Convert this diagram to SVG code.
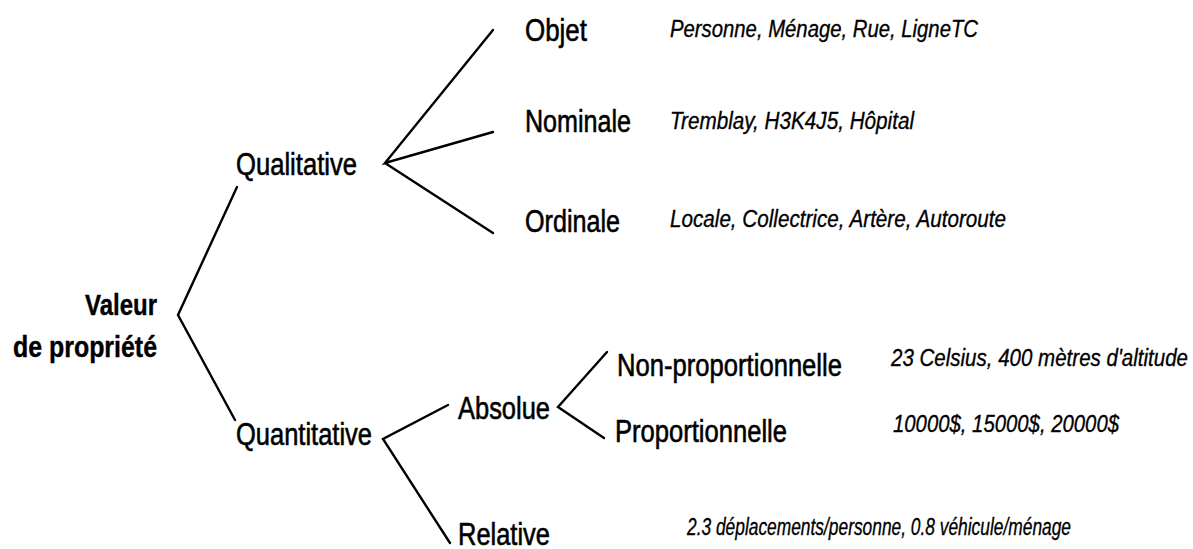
<svg xmlns="http://www.w3.org/2000/svg" width="1193" height="549" viewBox="0 0 1193 549">
  <style>
    .lbl { font-family: "Liberation Sans Narrow", "Liberation Sans", Arial, sans-serif; font-size: 31px; fill: #000; stroke: #000; stroke-width: 0.6px; }
    .root { font-family: "Liberation Sans Narrow", "Liberation Sans", Arial, sans-serif; font-size: 30px; font-weight: bold; fill: #000; stroke: #000; stroke-width: 0.4px; }
    .ex { font-family: "Liberation Sans Narrow", "Liberation Sans", Arial, sans-serif; font-size: 24.5px; font-style: italic; fill: #000; stroke: #000; stroke-width: 0.35px; }
    .br { fill: none; stroke: #000; stroke-width: 2.4; stroke-linejoin: miter; stroke-linecap: round; }
  </style>
  <rect width="1193" height="549" fill="#fff"/>

  <!-- branch connectors -->
  <g id="connectors">
    <path class="br" d="M237,187 L178,315 L235,420"/>
    <path class="br" d="M493,30 L385,163 L493,132 M385,163 L493,233"/>
    <path class="br" d="M448,405 L383,439 L450,543"/>
    <path class="br" d="M607,352 L558,407 L604,438"/>
  </g>

  <g id="valeur">
    <text class="root" x="157" y="315" text-anchor="end" textLength="72" lengthAdjust="spacingAndGlyphs">Valeur</text>
    <text class="root" x="157" y="357" text-anchor="end" textLength="144" lengthAdjust="spacingAndGlyphs">de propriété</text>
  </g>

  <g id="qualitative">
    <text class="lbl" x="236" y="175" textLength="121" lengthAdjust="spacingAndGlyphs">Qualitative</text>
  </g>

  <g id="objet">
    <text class="lbl" x="525" y="41" textLength="62" lengthAdjust="spacingAndGlyphs">Objet</text>
    <text class="ex" x="670" y="37" textLength="308" lengthAdjust="spacingAndGlyphs">Personne, Ménage, Rue, LigneTC</text>
  </g>

  <g id="nominale">
    <text class="lbl" x="525" y="132" textLength="106" lengthAdjust="spacingAndGlyphs">Nominale</text>
    <text class="ex" x="670" y="129" textLength="244" lengthAdjust="spacingAndGlyphs">Tremblay, H3K4J5, Hôpital</text>
  </g>

  <g id="ordinale">
    <text class="lbl" x="525" y="232" textLength="95" lengthAdjust="spacingAndGlyphs">Ordinale</text>
    <text class="ex" x="670" y="227" textLength="336" lengthAdjust="spacingAndGlyphs">Locale, Collectrice, Artère, Autoroute</text>
  </g>

  <g id="quantitative">
    <text class="lbl" x="236" y="445" textLength="136" lengthAdjust="spacingAndGlyphs">Quantitative</text>
  </g>

  <g id="absolue">
    <text class="lbl" x="458" y="419" textLength="92" lengthAdjust="spacingAndGlyphs">Absolue</text>
  </g>

  <g id="non-proportionnelle">
    <text class="lbl" x="617" y="376" textLength="225" lengthAdjust="spacingAndGlyphs">Non-proportionnelle</text>
    <text class="ex" x="891" y="366" textLength="297" lengthAdjust="spacingAndGlyphs">23 Celsius, 400 mètres d'altitude</text>
  </g>

  <g id="proportionnelle">
    <text class="lbl" x="615" y="442" textLength="172" lengthAdjust="spacingAndGlyphs">Proportionnelle</text>
    <text class="ex" x="893" y="432" textLength="226" lengthAdjust="spacingAndGlyphs">10000$, 15000$, 20000$</text>
  </g>

  <g id="relative">
    <text class="lbl" x="458" y="545" textLength="92" lengthAdjust="spacingAndGlyphs">Relative</text>
    <text class="ex" x="687" y="535" textLength="384" lengthAdjust="spacingAndGlyphs">2.3 déplacements/personne, 0.8 véhicule/ménage</text>
  </g>
</svg>
